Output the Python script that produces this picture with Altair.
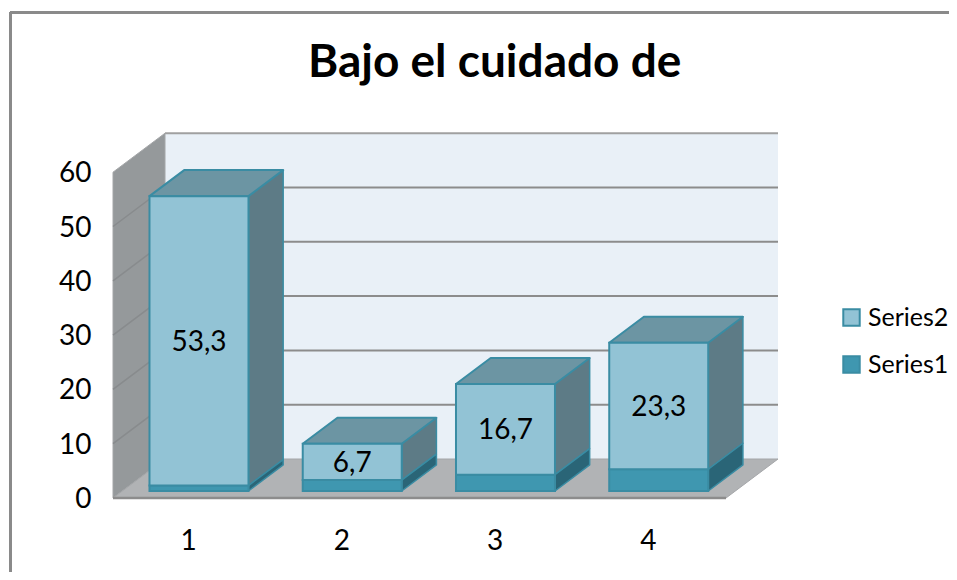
import altair as alt
import pandas as pd

categories = [1, 2, 3, 4]
series1 = [1.0, 2.0, 3.0, 4.0]
series2 = [53.3, 6.7, 16.7, 23.3]
labels2 = ["53,3", "6,7", "16,7", "23,3"]
y_ticks = [0, 10, 20, 30, 40, 50, 60]
series_names = ["Series2", "Series1"]
title_text = "Bajo el cuidado de"

# projection of the 3D box (category units, value units)
PX_CAT = 153.25
PX_VAL = 5.43
KX = 52 / PX_CAT
KV = 39 / PX_VAL
D0, D1 = 0.18, 0.847
BW = 0.646
W, H = 941, 564
X0, Y0 = 8, 8
XS = alt.Scale(domain=[0.5 - (113 - X0) / PX_CAT, 0.5 + (X0 + W - 113) / PX_CAT], nice=False, zero=False)
YS = alt.Scale(domain=[-(Y0 + H - 498) / PX_VAL, (498 - Y0) / PX_VAL], nice=False, zero=False)

FONT = "Lato"
FRONT = alt.Scale(domain=series_names, range=["#92C3D5", "#3F97B0"])
EDGE = "#3A8CA3"

AX = alt.Axis(values=categories, format="d", offset=-(Y0 + H - 498), domain=False, ticks=False, grid=False,
              title=None, labelFont=FONT, labelFontSize=28, labelColor="#000", labelPadding=29, labelOffset=-1.5,
              labelFlush=False, labelOverlap=False)
AY = alt.Axis(values=y_ticks, offset=-(113 - X0), domain=False, ticks=False, grid=False, title=None,
              labelFont=FONT, labelFontSize=28, labelColor="#000", labelPadding=22, labelOffset=1.5,
              labelFlush=False, labelOverlap=False)


def X(f):
    return alt.X(f, type="quantitative", scale=XS, axis=AX)


def Y(f):
    return alt.Y(f, type="quantitative", scale=YS, axis=AY)


fronts, sides, tops, texts = [], [], [], []
for c, a, b, lab in zip(categories, series1, series2, labels2):
    left, right = c - BW / 2, c + BW / 2
    for name, lo, hi in (("Series1", 0, a), ("Series2", a, a + b)):
        fronts.append(dict(s=name, x=left + D0 * KX, x2=right + D0 * KX, y=lo + D0 * KV, y2=hi + D0 * KV))
        for d in (D0, D1):
            sides.append(dict(k=f"{c}{name}", s=name, x=right + d * KX, y=hi + d * KV, y2=lo + d * KV))
    for d in (D0, D1):
        tops.append(dict(k=c, y=a + b + d * KV, x=left + d * KX, x2=right + d * KX))
    texts.append(dict(x=c + D0 * KX, y=a + b / 2 + D0 * KV, t=lab))

fronts, sides, tops, texts = map(pd.DataFrame, (fronts, sides, tops, texts))

lo_c, hi_c, top_v = 0.5, 4.5, y_ticks[-1]

back = alt.Chart(pd.DataFrame([dict(x=lo_c + KX, x2=hi_c + KX, y=KV, y2=top_v + KV)])).mark_rect(
    fill="#E9F0F7").encode(x=X("x"), x2="x2", y=Y("y"), y2="y2")
back_top = alt.Chart(pd.DataFrame([dict(x=lo_c + KX, x2=hi_c + KX, y=top_v + KV)])).mark_rule(
    color="#A0A0A0", strokeWidth=2).encode(x=X("x"), x2="x2", y=Y("y"))
wall = alt.Chart(pd.DataFrame([dict(x=lo_c + d * KX, y=d * KV, y2=top_v + d * KV) for d in (0, 1)])).mark_area(
    fill="#95999B", stroke="#A4A6A8", strokeWidth=1).encode(x=X("x"), y=Y("y"), y2=alt.Y2("y2"))
floor = alt.Chart(pd.DataFrame([dict(y=d * KV, x=lo_c + d * KX, x2=hi_c + d * KX) for d in (0, 1)])).mark_area(
    orient="horizontal", fill="#B1B3B5", stroke="#A4A6A8", strokeWidth=1).encode(y=Y("y"), x=X("x"), x2=alt.X2("x2"))
grid_back = alt.Chart(pd.DataFrame([dict(x=lo_c + KX, x2=hi_c + KX, y=v + KV) for v in y_ticks[1:-1]])).mark_rule(
    color="#8C8C8C", strokeWidth=2).encode(x=X("x"), x2="x2", y=Y("y"))
grid_wall = alt.Chart(pd.DataFrame([dict(k=v, x=lo_c + d * KX, y=v + d * KV) for v in y_ticks[1:-1] for d in (0, 1)])).mark_line(
    color="#888B8D", strokeWidth=1.5).encode(x=X("x"), y=Y("y"), detail="k:N")
floor_edge = alt.Chart(pd.DataFrame([dict(x=lo_c, x2=hi_c, y=0)])).mark_rule(color="#8C8C8C", strokeWidth=2.5).encode(
    x=X("x"), x2="x2", y=Y("y"))

side2 = alt.Chart(sides[sides.s == "Series2"]).mark_area(fill="#5D7B86", stroke=EDGE, strokeWidth=1.5, strokeJoin="round").encode(
    x=X("x"), y=Y("y"), y2=alt.Y2("y2"), detail="k:N")
side1 = alt.Chart(sides[sides.s == "Series1"]).mark_area(fill="#2A6577", stroke=EDGE, strokeWidth=1.5, strokeJoin="round").encode(
    x=X("x"), y=Y("y"), y2=alt.Y2("y2"), detail="k:N")
top = alt.Chart(tops).mark_area(orient="horizontal", fill="#6C95A3", stroke=EDGE, strokeWidth=2, strokeJoin="round").encode(
    y=Y("y"), x=X("x"), x2=alt.X2("x2"), detail="k:N")
front = alt.Chart(fronts).mark_rect(stroke=EDGE, strokeWidth=2).encode(
    x=X("x"), x2="x2", y=Y("y"), y2="y2",
    fill=alt.Fill("s:N", scale=FRONT, legend=alt.Legend(
        title=None, orient="none", legendX=839 - X0, legendY=305 - Y0, symbolType="square", symbolSize=270,
        symbolStrokeColor=EDGE, symbolStrokeWidth=2, labelFont=FONT, labelFontSize=25, labelColor="#000",
        labelOffset=4, rowPadding=21, symbolOpacity=1)))
text = alt.Chart(texts).mark_text(font=FONT, fontSize=28, color="#000", dy=2).encode(x=X("x"), y=Y("y"), text="t:N")

border_top = alt.Chart(pd.DataFrame({"a": [0]})).mark_rule(color="#8A8A8A", strokeWidth=3).encode(
    x=alt.value(2), x2=alt.value(W), y=alt.value(4.5))
border_left = alt.Chart(pd.DataFrame({"a": [0]})).mark_rule(color="#8A8A8A", strokeWidth=3).encode(
    x=alt.value(2.5), y=alt.value(4), y2=alt.value(H))

chart = alt.layer(border_top, border_left, back, back_top, wall, floor, grid_back, grid_wall, floor_edge,
                  side2, side1, top, front, text).properties(
    width=W, height=H, autosize="none", padding=0,
    title=alt.TitleParams(title_text, font=FONT, fontWeight="bold", fontSize=46, color="#000",
                          anchor="start", dx=300, dy=119, baseline="alphabetic"),
).configure_view(stroke=None)

chart.save("out.html", embed_options={"renderer": "svg", "actions": False})
